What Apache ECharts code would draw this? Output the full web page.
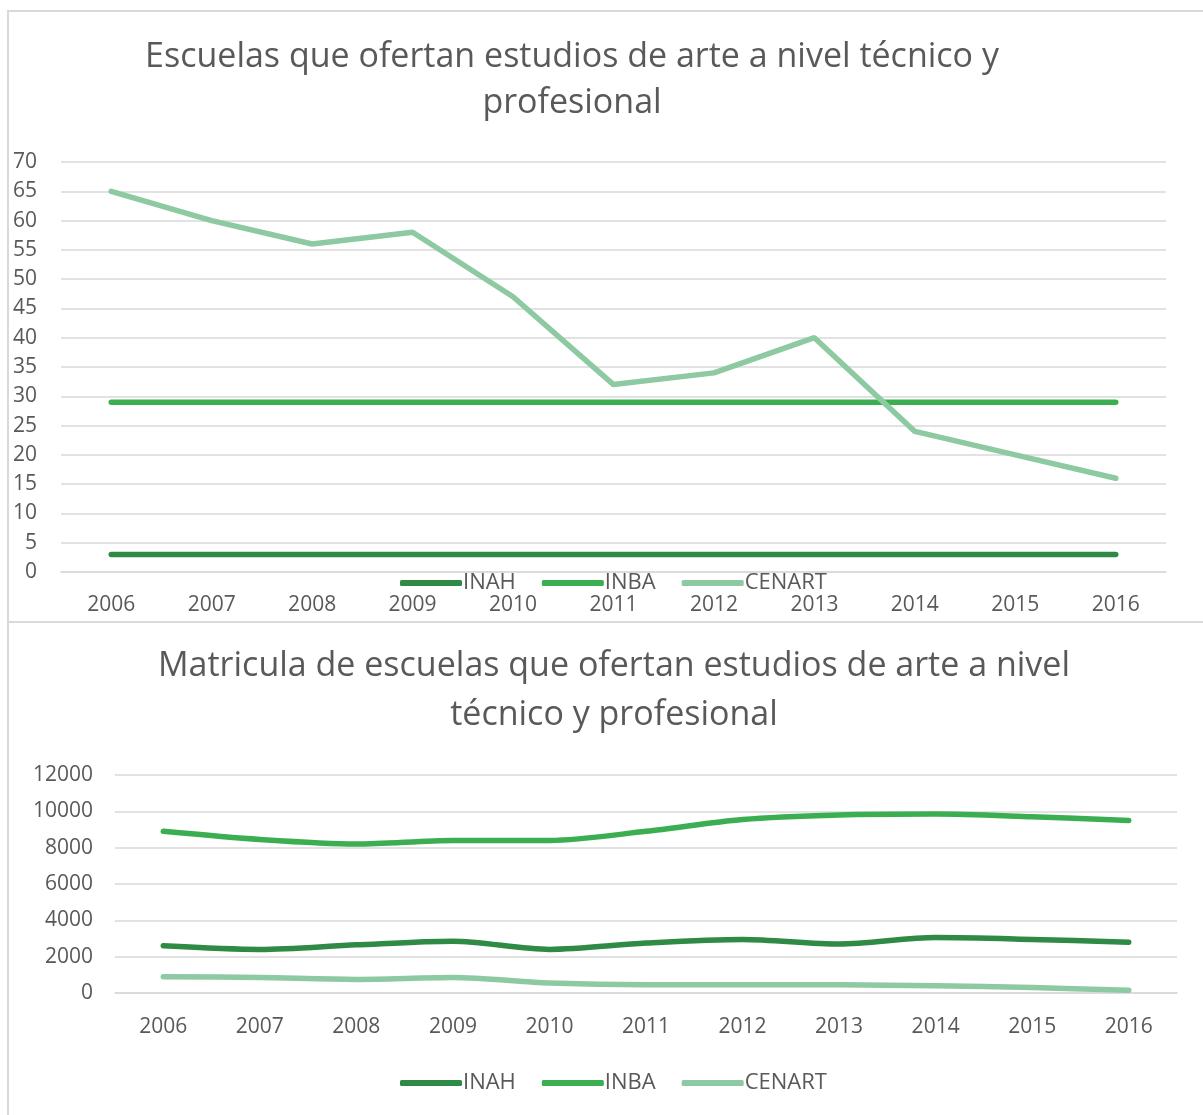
<!DOCTYPE html>
<html>
<head>
<meta charset="utf-8">
<script src="https://cdn.jsdelivr.net/npm/echarts@6/dist/echarts.min.js"></script>
<style>
  html, body { margin: 0; padding: 0; background: #fff; }
  #main { width: 1203px; height: 1115px; }
</style>
</head>
<body>
<div id="main"></div>
<script>
// datos
var years = ['2006','2007','2008','2009','2010','2011','2012','2013','2014','2015','2016'];
var seriesNames = ['INAH', 'INBA', 'CENART'];

// escuelas
var escuelasINAH   = [3, 3, 3, 3, 3, 3, 3, 3, 3, 3, 3];
var escuelasINBA   = [29, 29, 29, 29, 29, 29, 29, 29, 29, 29, 29];
var escuelasCENART = [65, 60, 56, 58, 47, 32, 34, 40, 24, 20, 16];

// matricula
var matriculaINAH   = [2600, 2400, 2650, 2850, 2400, 2750, 2950, 2700, 3050, 2950, 2800];
var matriculaINBA   = [8900, 8450, 8200, 8400, 8400, 8900, 9550, 9800, 9850, 9700, 9500];
var matriculaCENART = [900, 850, 750, 850, 550, 450, 450, 450, 400, 300, 150];

var colors = ['#2f8a45', '#3bae52', '#8dc9a1'];
var txt = '#595959';
var font = 'Open Sans';

var myChart = echarts.init(document.getElementById('main'));

function lineSerie(name, data, idx, color, smooth) {
    return {
        name: name,
        type: 'line',
        xAxisIndex: idx,
        yAxisIndex: idx,
        data: data,
        symbol: 'none',
        smooth: smooth,
        lineStyle: { color: color, width: 5.5, cap: 'round' },
        itemStyle: { color: color }
    };
}

function legendAt(top) {
    return {
        data: seriesNames,
        left: 400,
        top: top,
        padding: 0,
        icon: 'roundRect',
        itemWidth: 62,
        itemHeight: 6,
        itemGap: 26,
        textStyle: { fontFamily: font, fontSize: 22, color: txt, padding: [0, 0, 0, -4] }
    };
}

var option = {
    animation: false,
    backgroundColor: '#fff',
    textStyle: { fontFamily: font, color: txt },
    color: colors,
    title: [
        {
            text: 'Escuelas que ofertan estudios de arte a nivel técnico y\nprofesional',
            left: 572,
            top: 34,
            padding: 0,
            textAlign: 'center',
            textStyle: { fontFamily: font, fontSize: 34, fontWeight: 'normal', color: txt, lineHeight: 46 }
        },
        {
            text: 'Matricula de escuelas que ofertan estudios de arte a nivel\ntécnico y profesional',
            left: 614,
            top: 642,
            padding: 0,
            textAlign: 'center',
            textStyle: { fontFamily: font, fontSize: 34, fontWeight: 'normal', color: txt, lineHeight: 49 }
        }
    ],
    legend: [legendAt(572), legendAt(1072)],
    grid: [
        { left: 61, right: 37, top: 162, height: 410 },
        { left: 115, right: 26, top: 775, height: 218 }
    ],
    xAxis: [
        {
            type: 'category', gridIndex: 0, data: years, boundaryGap: true,
            axisLine: { show: true, lineStyle: { color: '#d9d9d9', width: 1.5 } },
            axisTick: { show: false },
            axisLabel: { color: txt, fontSize: 21, margin: 23, fontFamily: font }
        },
        {
            type: 'category', gridIndex: 1, data: years, boundaryGap: true,
            axisLine: { show: true, lineStyle: { color: '#d9d9d9', width: 1.5 } },
            axisTick: { show: false },
            axisLabel: { color: txt, fontSize: 21, margin: 24, fontFamily: font }
        }
    ],
    yAxis: [
        {
            type: 'value', gridIndex: 0, min: 0, max: 70, interval: 5,
            axisLine: { show: false }, axisTick: { show: false },
            axisLabel: { color: txt, fontSize: 21, margin: 24, fontFamily: font,
                formatter: function (v) { return String(v); } },
            splitLine: { lineStyle: { color: '#d9d9d9', width: 1.5 } }
        },
        {
            type: 'value', gridIndex: 1, min: 0, max: 12000, interval: 2000,
            axisLine: { show: false }, axisTick: { show: false },
            axisLabel: { color: txt, fontSize: 21, margin: 22, fontFamily: font,
                formatter: function (v) { return String(v); } },
            splitLine: { lineStyle: { color: '#d9d9d9', width: 1.5 } }
        }
    ],
    graphic: [
        {
            type: 'rect', z: -10, silent: true,
            shape: { x: 8, y: 11, width: 1200, height: 611 },
            style: { fill: 'none', stroke: '#d9d9d9', lineWidth: 2 }
        },
        {
            type: 'rect', z: -10, silent: true,
            shape: { x: 8, y: 622, width: 1200, height: 500 },
            style: { fill: 'none', stroke: '#d9d9d9', lineWidth: 2 }
        }
    ],
    series: [
        lineSerie('INAH', escuelasINAH, 0, colors[0], false),
        lineSerie('INBA', escuelasINBA, 0, colors[1], false),
        lineSerie('CENART', escuelasCENART, 0, colors[2], false),
        lineSerie('INAH', matriculaINAH, 1, colors[0], 0.3),
        lineSerie('INBA', matriculaINBA, 1, colors[1], 0.3),
        lineSerie('CENART', matriculaCENART, 1, colors[2], 0.3)
    ]
};

myChart.setOption(option);
</script>
</body>
</html>
